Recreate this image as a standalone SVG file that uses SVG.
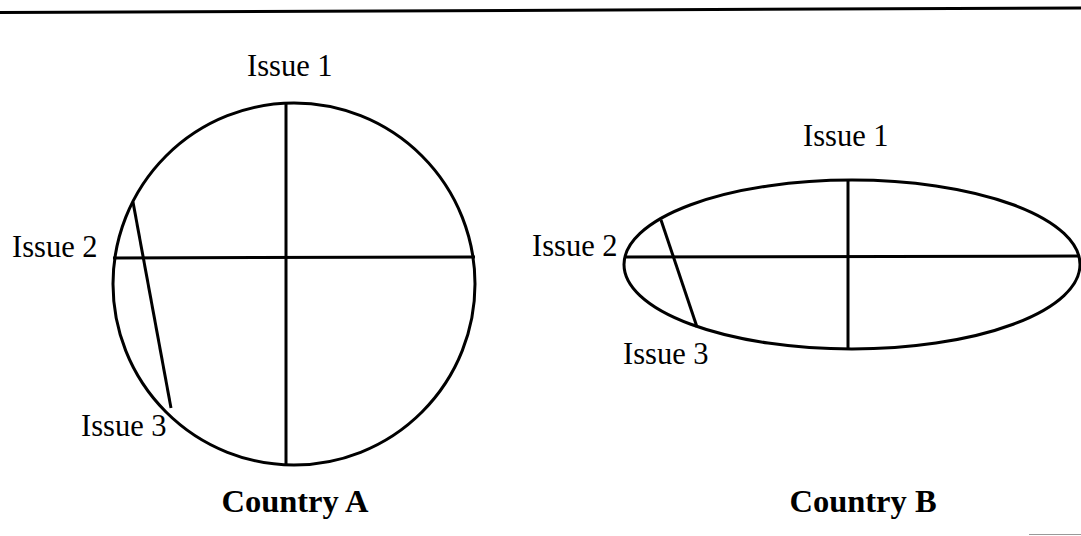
<svg xmlns="http://www.w3.org/2000/svg" width="1081" height="536" viewBox="0 0 1081 536">
<style>
.ln{stroke:#000;stroke-width:3;fill:none}
.t{font-family:"Liberation Serif",serif;font-size:30.5px;fill:#000}
.b{font-family:"Liberation Serif",serif;font-size:32.5px;font-weight:bold;fill:#000}
</style>
<rect width="1081" height="536" fill="#fff"/>
<line x1="0" y1="12.5" x2="1081" y2="8" stroke="#000" stroke-width="3"/>
<g id="countryA">
<circle class="ln" cx="294" cy="284" r="181"/>
<line class="ln" x1="286" y1="104" x2="286" y2="464"/>
<line class="ln" x1="113" y1="258" x2="475" y2="257"/>
<line class="ln" x1="133" y1="202" x2="171" y2="408"/>
<text class="t" x="247" y="76">Issue 1</text>
<text class="t" x="12" y="257">Issue 2</text>
<text class="t" x="81" y="436">Issue 3</text>
<text class="b" x="295" y="512" text-anchor="middle">Country A</text>
</g>
<g id="countryB">
<ellipse class="ln" cx="852" cy="264.5" rx="228" ry="84.5"/>
<line class="ln" x1="848" y1="180" x2="848" y2="349"/>
<line class="ln" x1="624" y1="257" x2="1080" y2="256"/>
<line class="ln" x1="661" y1="220" x2="697" y2="327"/>
<text class="t" x="803" y="146">Issue 1</text>
<text class="t" x="532" y="256">Issue 2</text>
<text class="t" x="623" y="364">Issue 3</text>
<text class="b" x="863" y="512" text-anchor="middle">Country B</text>
</g>
<line x1="1029" y1="534.5" x2="1081" y2="534.5" stroke="#999" stroke-width="1"/>
</svg>
